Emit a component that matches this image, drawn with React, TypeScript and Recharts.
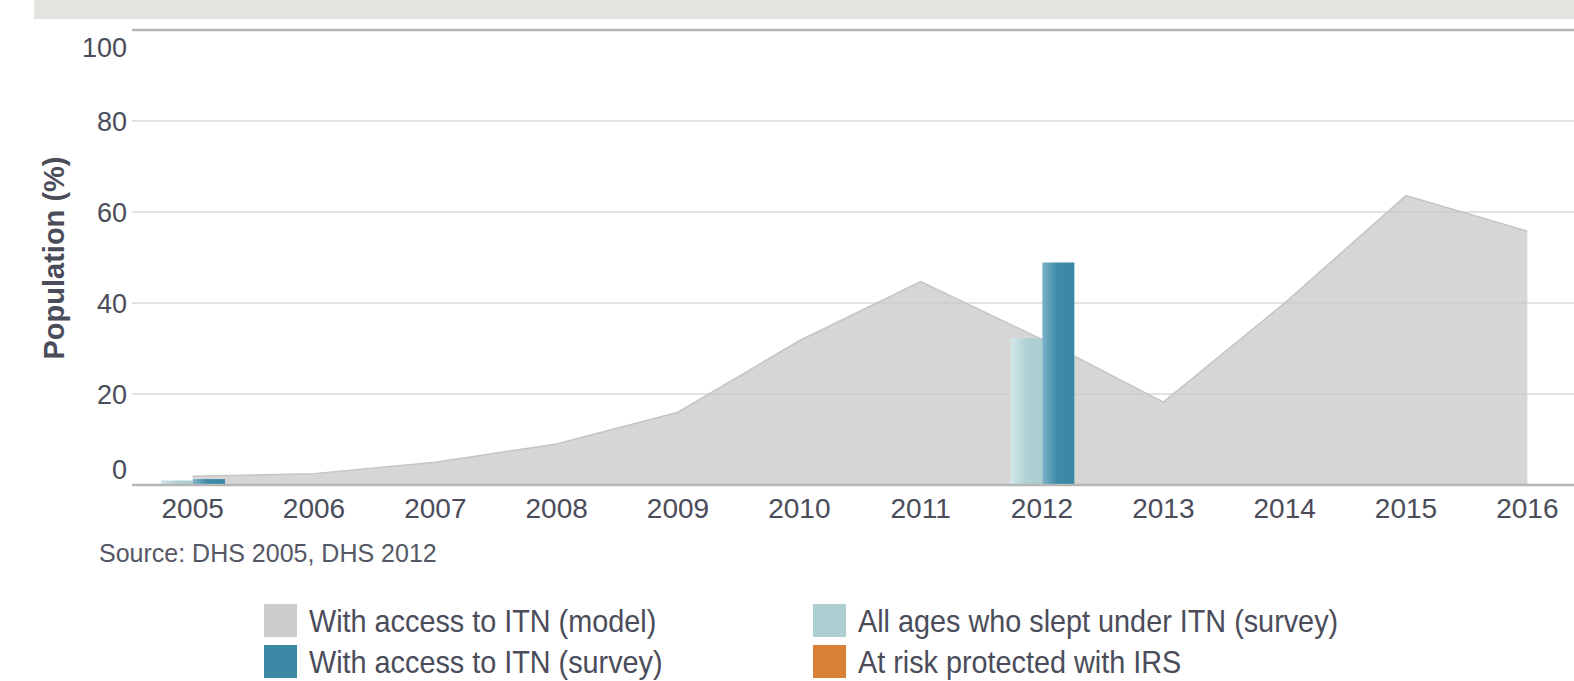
import React from 'react';
import {
  ComposedChart,
  Area,
  Bar,
  XAxis,
  YAxis,
  CartesianGrid,
  ReferenceLine,
  Label,
} from 'recharts';

const years = ['2005', '2006', '2007', '2008', '2009', '2010', '2011', '2012', '2013', '2014', '2015', '2016'];
const accessModel = [1.9, 2.5, 5.0, 9.0, 16.0, 31.7, 44.7, 32.0, 18.2, 40.0, 63.6, 55.8];
const sleptSurvey: (number | null)[] = [1.0, null, null, null, null, null, null, 32.3, null, null, null, null];
const accessSurvey: (number | null)[] = [1.3, null, null, null, null, null, null, 48.9, null, null, null, null];
const irsProtected: (number | null)[] = [null, null, null, null, null, null, null, null, null, null, null, null];
const yTicks = [0, 20, 40, 60, 80, 100];

const legendItems = [
  { label: 'With access to ITN (model)', color: '#cccccc' },
  { label: 'With access to ITN (survey)', color: '#3a88a6' },
  { label: 'All ages who slept under ITN (survey)', color: '#aecfd2' },
  { label: 'At risk protected with IRS', color: '#d98036' },
];

const sourceText = 'Source: DHS 2005, DHS 2012';

const data = years.map((year, i) => ({
  year,
  model: accessModel[i],
  slept: sleptSurvey[i],
  survey: accessSurvey[i],
  irs: irsProtected[i],
}));

const TEXT = '#4b4c5a';
const FONT = '"Liberation Sans", Arial, Helvetica, sans-serif';

const XTick = (props: any) => {
  const { x, y, payload } = props;
  return (
    <text x={x} y={y + 33} textAnchor="middle" fontSize={28} fill={TEXT} fontFamily={FONT}>
      {payload.value}
    </text>
  );
};

const YTick = (props: any) => {
  const { x, y, payload } = props;
  // end labels are pulled inside the plot like the original
  let shift = 0;
  if (payload.value === 100) shift = 17;
  if (payload.value === 0) shift = -16;
  return (
    <text x={x} y={y + shift + 10} textAnchor="end" fontSize={27} fill={TEXT} fontFamily={FONT}>
      {payload.value}
    </text>
  );
};

const YLabel = () => (
  <text
    transform="translate(64,258) rotate(-90)"
    textAnchor="middle"
    fontSize={29}
    fontWeight="bold"
    fill={TEXT}
    fontFamily={FONT}
  >
    Population (%)
  </text>
);

const legendCols = [264, 813];
const legendRows = [604, 645];

export default function App() {
  return (
    <div
      style={{
        position: 'absolute',
        left: 0,
        top: 0,
        width: 1574,
        height: 681,
        overflow: 'hidden',
        background: '#ffffff',
        fontFamily: FONT,
      }}
    >
      <div style={{ position: 'absolute', left: 34, top: 0, width: 1540, height: 19, background: '#e4e3de' }} />
      <div style={{ position: 'absolute', left: 0, top: 0 }}>
        <ComposedChart
          width={1600}
          height={560}
          data={data}
          margin={{ top: 30, right: 12, bottom: 0, left: 0 }}
          barGap={0}
        >
          <defs>
            <linearGradient id="gradLight" x1="0" y1="0" x2="1" y2="0">
              <stop offset="0%" stopColor="#d3e7e9" />
              <stop offset="50%" stopColor="#b1d2d5" />
              <stop offset="100%" stopColor="#aacdd0" />
            </linearGradient>
            <linearGradient id="gradDark" x1="0" y1="0" x2="1" y2="0">
              <stop offset="0%" stopColor="#7db2c7" />
              <stop offset="45%" stopColor="#3e8ba8" />
              <stop offset="100%" stopColor="#3a87a4" />
            </linearGradient>
          </defs>
          <CartesianGrid vertical={false} stroke="#d9d9d9" strokeWidth={1.5} />
          <XAxis
            dataKey="year"
            height={75}
            tickLine={false}
            tickSize={0}
            tickMargin={0}
            interval={0}
            axisLine={{ stroke: '#b5b5b5', strokeWidth: 2.5 }}
            tick={<XTick />}
          />
          <YAxis
            width={132}
            domain={[0, 100]}
            ticks={yTicks}
            axisLine={false}
            tickLine={false}
            tickSize={0}
            tickMargin={5}
            tick={<YTick />}
          >
            <Label content={<YLabel />} />
          </YAxis>
          <Area
            type="linear"
            dataKey="model"
            fill="#c9c9c9"
            fillOpacity={0.76}
            stroke="#c4c4c4"
            strokeWidth={1.5}
            dot={false}
            activeDot={false}
            isAnimationActive={false}
          />
          <ReferenceLine y={100} stroke="#b5b5b5" strokeWidth={2.5} />
          <Bar dataKey="slept" barSize={32} fill="url(#gradLight)" isAnimationActive={false} />
          <Bar dataKey="survey" barSize={32} fill="url(#gradDark)" isAnimationActive={false} />
        </ComposedChart>
      </div>
      <svg
        width={1574}
        height={681}
        style={{ position: 'absolute', left: 0, top: 0, pointerEvents: 'none' }}
      >
        <text x={99} y={562} fontSize={25} fill="#555764" fontFamily={FONT}>
          {sourceText}
        </text>
        {legendItems.map((item, i) => {
          const col = Math.floor(i / 2);
          const row = i % 2;
          const x = legendCols[col];
          const y = legendRows[row];
          return (
            <g key={item.label}>
              <rect x={x} y={y} width={33} height={33} fill={item.color} />
              <text
                transform={`translate(${x + 45},${y + 28}) scale(0.9,1)`}
                fontSize={32}
                fill={TEXT}
                fontFamily={FONT}
              >
                {item.label}
              </text>
            </g>
          );
        })}
      </svg>
    </div>
  );
}
